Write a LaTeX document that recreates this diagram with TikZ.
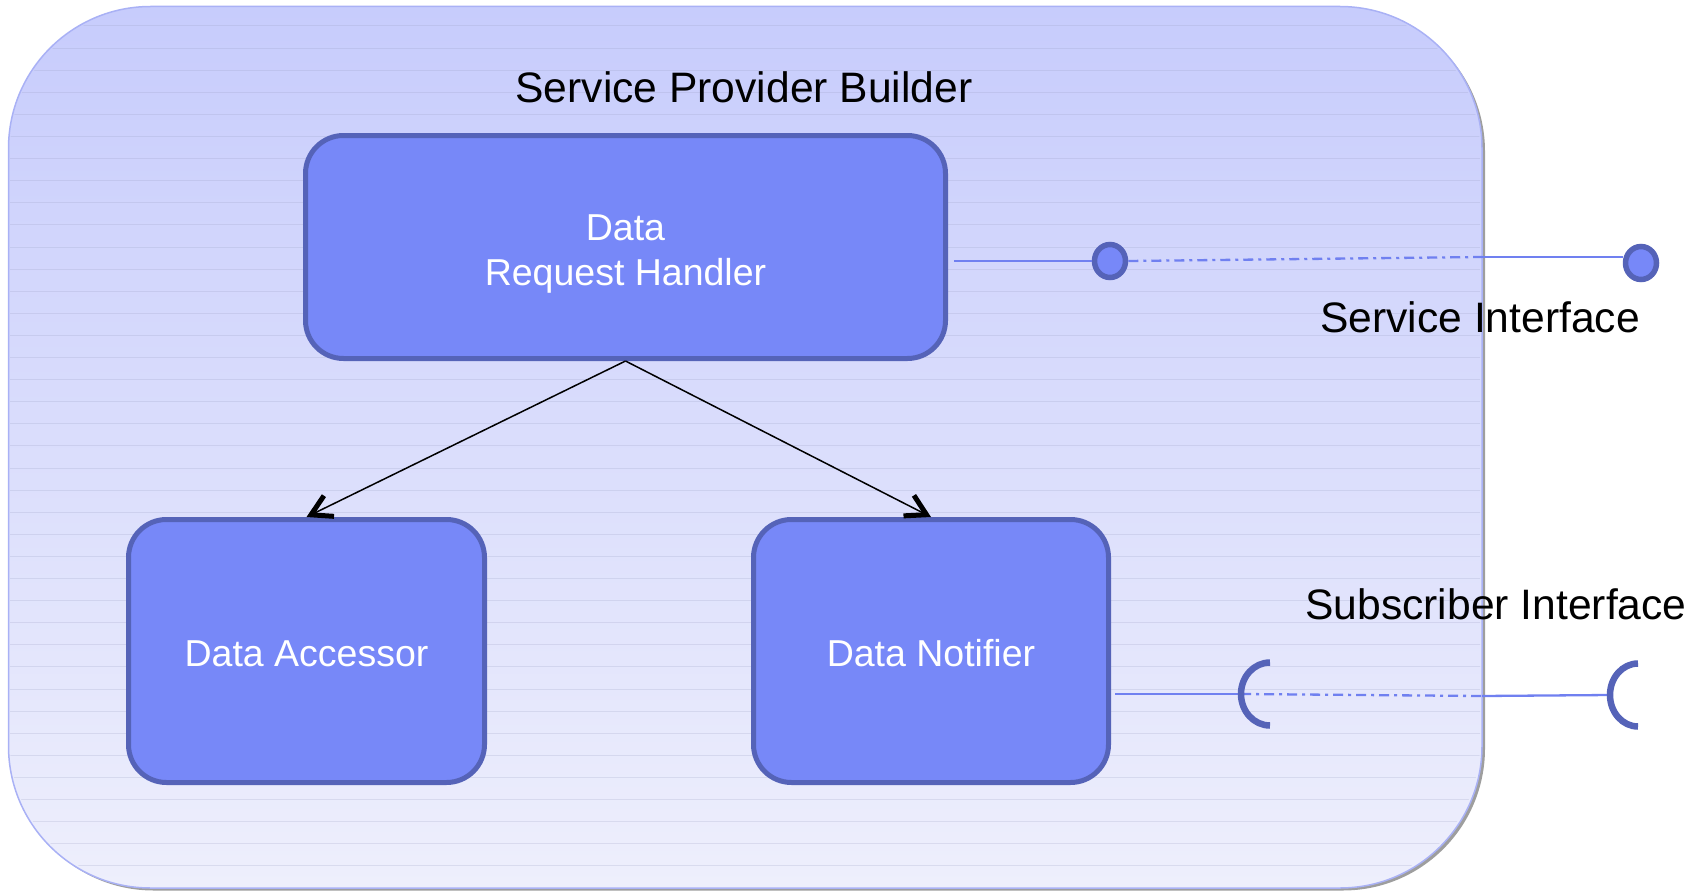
\documentclass[tikz,border=0pt]{standalone}
\usepackage{fontspec}
\setmainfont{Liberation Sans}
\usetikzlibrary{arrows.meta,shapes.geometric}
\definecolor{boxfill}{HTML}{7788F8}
\definecolor{boxdraw}{HTML}{5563B8}
\definecolor{linkc}{HTML}{7080F0}
\definecolor{bgtop}{HTML}{C7CCFC}
\definecolor{bgbot}{HTML}{EEEFFC}
\definecolor{bgline}{RGB}{150,155,190}
\definecolor{bgedge}{HTML}{A9B1F5}
\begin{document}
\begin{tikzpicture}[x=1pt,y=-1pt,
  comp/.style={draw=boxdraw, fill=boxfill, line width=5pt, rounded corners=38pt, text=white,
    font=\fontsize{37.5}{44.5}\selectfont, align=center, inner sep=0pt},
  oneline/.style={text height=31pt, text depth=0pt},
  twoline/.style={text height=76.8pt, text depth=0pt},
  ball/.style={ellipse, draw=boxdraw, fill=boxfill, line width=5.5pt, minimum width=31pt,
    minimum height=33pt, inner sep=0pt},
  socketarc/.style={draw=boxdraw, line width=6.5pt},
  link/.style={draw=linkc, line width=2.3pt},
  dlink/.style={draw=linkc, line width=2.3pt, dash pattern=on 10pt off 5pt on 3pt off 5pt},
  lbl/.style={font=\fontsize{42.6}{50}\selectfont, text=black, inner sep=0pt},
  dep/.style={draw=black, line width=1.5pt, -{Straight Barb[length=20pt,width=23pt,line width=5pt]}}
]
\useasboundingbox (0,0) rectangle (1701,891);
% shadow
\fill[black!38, rounded corners=142pt] (11.5,9.5) rectangle (1485,890.5);
% container
\path[rounded corners=142pt, top color=bgtop, bottom color=bgbot] (8.5,6.5) rectangle (1482,888);
\begin{scope}
  \clip[rounded corners=142pt] (10,8) rectangle (1480,886);
  \foreach \k in {0,...,38}
    \draw[bgline, opacity=0.22, line width=1pt] (0,{26+22.1*\k}) -- (1701,{26+22.1*\k});
\end{scope}
\draw[bgedge, line width=1.5pt, rounded corners=142pt] (8.5,6.5) rectangle (1482,888);

% title and labels
\node[lbl] (title) at (744,87) {Service Provider Builder};
\node[lbl] (silbl) at (1480,317) {Service Interface};
\node[lbl] (sulbl) at (1496,604) {Subscriber Interface};

% components
\node[comp, twoline, minimum width=640pt, minimum height=223pt] (drh) at (625.5,247) {Data\\Request Handler};
\node[comp, oneline, minimum width=356pt, minimum height=263pt] (da) at (306.5,651) {Data Accessor};
\node[comp, oneline, minimum width=355pt, minimum height=263pt] (dn) at (931,651) {Data Notifier};

% dependencies
\draw[dep] (drh.south) -- (da.north);
\draw[dep] (drh.south) -- (dn.north);

% service interface (lollipops)
\node[ball] (b1) at (1110,261) {};
\node[ball] (b2) at (1641,263) {};
\coordinate (h1) at ([xshift=6pt]drh.east |- b1);
\coordinate (e1) at (1482,257);
\draw[link] (h1) -- (b1.west);
\draw[dlink] (b1.east) -- (e1);
\draw[link] (e1) -- (b2.west |- e1);

% subscriber interface (sockets)
\coordinate (s1) at (1241,694);
\coordinate (s1top) at (1270,662.5);
\coordinate (h2) at ([xshift=4pt]dn.east |- s1);
\coordinate (e2) at (1482,696);
\coordinate (s2) at (1610,695);
\coordinate (s2top) at (1638,663.5);
\draw[link] (h2) -- (s1);
\draw[dlink] (s1) -- (e2);
\draw[link] (e2) -- (s2);
\draw[socketarc] (s1top) arc[start angle=90, end angle=270, x radius=29pt, y radius=31.5pt];
\draw[socketarc] (s2top) arc[start angle=90, end angle=270, x radius=28pt, y radius=31.5pt];
\end{tikzpicture}
\end{document}
